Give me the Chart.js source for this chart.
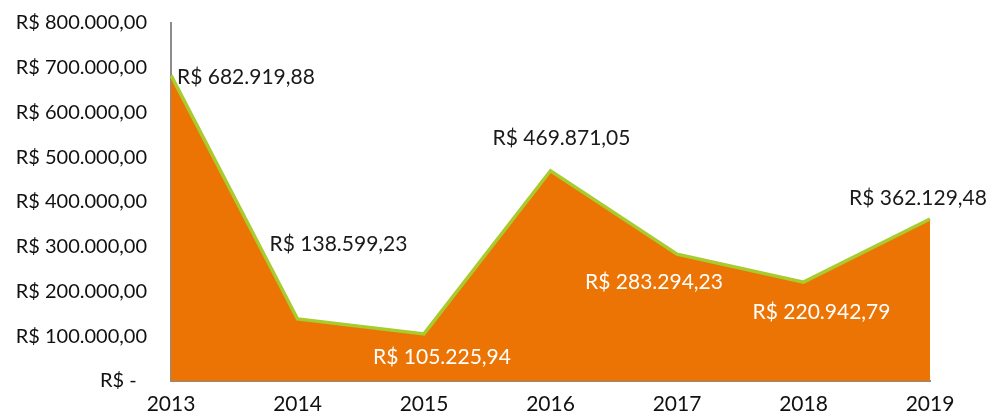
<!DOCTYPE html>
<html>
<head>
<meta charset="utf-8">
<script src="https://cdn.jsdelivr.net/npm/chart.js@4"></script>
<style>
html,body{margin:0;padding:0;background:#fff;}
#wrap{width:991px;height:414px;position:relative;}
</style>
</head>
<body>
<div id="wrap"><canvas id="c" width="991" height="414"></canvas></div>
<script>
const categories = ['2013','2014','2015','2016','2017','2018','2019'];
const values = [682919.88, 138599.23, 105225.94, 469871.05, 283294.23, 220942.79, 362129.48];
const yTicks = [0, 100000, 200000, 300000, 400000, 500000, 600000, 700000, 800000];

// label placement styles (offsets from point in px, color, alignment)
const labelStyle = [
  {dx: 6,  dy: 2,   color: '#1a1a1a', align: 'left'},
  {dx: 41, dy: -75, color: '#1a1a1a', align: 'center'},
  {dx: 18, dy: 23,  color: '#ffffff', align: 'center'},
  {dx: 11, dy: -32, color: '#1a1a1a', align: 'center'},
  {dx: -23, dy: 28, color: '#ffffff', align: 'center'},
  {dx: 18, dy: 30,  color: '#ffffff', align: 'center'},
  {dx: -12, dy: -21, color: '#1a1a1a', align: 'center'}
];

const FONT = 'Lato, "Open Sans", sans-serif';

function fmtBRL(v) {
  const fixed = v.toFixed(2);
  let [intPart, dec] = fixed.split('.');
  intPart = intPart.replace(/\B(?=(\d{3})+(?!\d))/g, '.');
  return 'R$ ' + intPart + ',' + dec;
}

const labelPlugin = {
  id: 'valueLabels',
  afterDatasetsDraw(chart) {
    const ctx = chart.ctx;
    const meta = chart.getDatasetMeta(0);
    ctx.save();
    ctx.font = '21px ' + FONT;
    ctx.textBaseline = 'middle';
    meta.data.forEach((pt, i) => {
      const s = labelStyle[i];
      ctx.fillStyle = s.color;
      ctx.textAlign = s.align;
      ctx.fillText(fmtBRL(values[i]), pt.x + s.dx, pt.y + s.dy);
    });
    ctx.restore();
  }
};

new Chart(document.getElementById('c'), {
  type: 'line',
  data: {
    labels: categories,
    datasets: [{
      data: values,
      borderColor: '#A8CB2E',
      borderWidth: 3.5,
      backgroundColor: '#EC7404',
      fill: 'origin',
      tension: 0,
      pointRadius: 0,
      pointHoverRadius: 0
    }]
  },
  options: {
    responsive: false,
    animation: false,
    layout: {padding: {left: 0, right: 61, top: 23, bottom: 0}},
    plugins: {legend: {display: false}, tooltip: {enabled: false}},
    scales: {
      x: {
        offset: false,
        grid: {display: false, drawTicks: false},
        border: {display: true, color: '#8c8c8c', width: 2},
        ticks: {color: '#111', font: {family: FONT, size: 21}, padding: 11, maxRotation: 0},
        afterFit(s) { s.height = 33; s.paddingLeft = 0; s.paddingRight = 0; }
      },
      y: {
        min: 0, max: 800000,
        afterBuildTicks(s) { s.ticks = yTicks.map(v => ({value: v})); },
        grid: {display: false, drawTicks: false},
        border: {display: true, color: '#8c8c8c', width: 2},
        ticks: {
          color: '#111',
          font: {family: FONT, size: 20},
          padding: 24,
          callback: v => v === 0 ? 'R$ -  ' : fmtBRL(v)
        },
        afterFit(s) { s.width = 171; s.paddingTop = 0; s.paddingBottom = 0; }
      }
    }
  },
  plugins: [labelPlugin]
});
</script>
</body>
</html>
